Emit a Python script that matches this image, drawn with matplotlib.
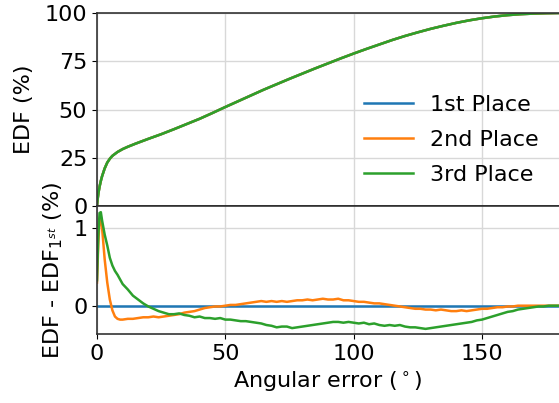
import matplotlib
matplotlib.use("Agg")
import matplotlib.pyplot as plt
import numpy as np

# EDF curve (shared by all three places, visually identical)
edf_x = [0, 0.3, 0.6, 1, 1.5, 2, 3, 4, 5, 6, 8, 10, 12, 15, 20, 25, 30, 35, 40, 45, 50,
         55, 60, 65, 70, 75, 80, 85, 90, 95, 100, 105, 110, 115, 120, 125, 130, 135,
         140, 145, 150, 155, 160, 165, 170, 175, 180]
edf_y = [0, 4, 7, 10, 13, 15.5, 19.5, 22.5, 24.5, 26, 28, 29.5, 30.7, 32.3, 34.8, 37.2,
         39.8, 42.5, 45.2, 48.2, 51.3, 54.3, 57.3, 60.3, 63.1, 65.9, 68.6, 71.3, 73.9,
         76.5, 79.0, 81.4, 83.7, 86.0, 88.1, 90.0, 91.8, 93.4, 94.9, 96.2, 97.3, 98.2,
         98.9, 99.4, 99.7, 99.9, 100]

# Difference to 1st place
diff_x = [0, 0.5, 1, 1.5, 2, 3, 4, 5, 6, 7, 8, 9, 10, 12, 14, 16, 18, 20, 22, 24, 26,
          28, 30, 32, 34, 36, 38, 40, 42, 44, 46, 48, 50, 52, 54, 56, 58, 60, 62, 64,
          66, 68, 70, 72, 74, 76, 78, 80, 82, 84, 86, 88, 90, 92, 94, 96, 98, 100, 102,
          104, 106, 108, 110, 112, 114, 116, 118, 120, 122, 124, 126, 128, 130, 132,
          134, 136, 138, 140, 142, 144, 146, 148, 150, 152, 154, 156, 158, 160, 162,
          164, 166, 168, 170, 172, 174, 176, 178, 180]
second_diff = [0.3, 0.8, 1.12, 1.15, 1.0, 0.6, 0.3, 0.08, -0.06, -0.14, -0.17, -0.18,
               -0.18, -0.17, -0.17, -0.16, -0.15, -0.15, -0.14, -0.15, -0.14, -0.13,
               -0.12, -0.11, -0.09, -0.08, -0.07, -0.05, -0.03, -0.02, -0.01, -0.01,
               0.0, 0.01, 0.01, 0.02, 0.03, 0.04, 0.05, 0.06, 0.05, 0.06, 0.05, 0.06,
               0.05, 0.06, 0.07, 0.07, 0.08, 0.07, 0.08, 0.09, 0.08, 0.08, 0.09, 0.07,
               0.07, 0.06, 0.05, 0.05, 0.04, 0.03, 0.03, 0.02, 0.01, -0.0, -0.01, -0.02,
               -0.03, -0.04, -0.04, -0.05, -0.05, -0.06, -0.05, -0.06, -0.07, -0.07,
               -0.06, -0.07, -0.06, -0.05, -0.04, -0.04, -0.03, -0.02, -0.02, -0.01,
               -0.01, 0.0, 0.0, 0.0, 0.0, 0.0, 0.0, 0.0, 0.0, 0.0]
third_diff = [0.33, 0.9, 1.2, 1.21, 1.1, 0.92, 0.78, 0.62, 0.52, 0.45, 0.40, 0.34,
              0.28, 0.21, 0.13, 0.08, 0.03, -0.01, -0.04, -0.07, -0.09, -0.11, -0.11,
              -0.10, -0.12, -0.13, -0.15, -0.14, -0.16, -0.16, -0.17, -0.16, -0.18,
              -0.18, -0.19, -0.20, -0.20, -0.21, -0.22, -0.23, -0.25, -0.26, -0.28,
              -0.27, -0.27, -0.29, -0.28, -0.27, -0.26, -0.25, -0.24, -0.23, -0.22,
              -0.21, -0.21, -0.22, -0.21, -0.22, -0.23, -0.22, -0.24, -0.23, -0.25,
              -0.26, -0.25, -0.26, -0.25, -0.27, -0.28, -0.28, -0.29, -0.30, -0.29,
              -0.28, -0.27, -0.26, -0.25, -0.24, -0.23, -0.22, -0.21, -0.19, -0.18,
              -0.16, -0.14, -0.12, -0.10, -0.08, -0.07, -0.05, -0.04, -0.03, -0.02,
              -0.01, -0.01, 0.0, 0.0, 0.0]
first_diff = [0.0] * len(diff_x)

labels = ["1st Place", "2nd Place", "3rd Place"]
colors = ["#1f77b4", "#ff7f0e", "#2ca02c"]

fs = 16
plt.rcParams["font.size"] = fs
fig = plt.figure(figsize=(5.59, 4.03), dpi=100)
ax1 = fig.add_axes([0.1735, 0.4888, 0.8265, 0.4789])
ax2 = fig.add_axes([0.1735, 0.1705, 0.8265, 0.3183], sharex=ax1)

for lab, c in zip(labels, colors):
    ax1.plot(edf_x, edf_y, color=c, lw=1.8, label=lab)
ax2.plot(diff_x, first_diff, color=colors[0], lw=1.8)
ax2.plot(diff_x, second_diff, color=colors[1], lw=1.8)
ax2.plot(diff_x, third_diff, color=colors[2], lw=1.8)

ax1.set_xlim(0, 180)
ax1.set_ylim(0, 100)
ax1.set_yticks([0, 25, 50, 75, 100])
ax2.set_ylim(-0.37, 1.29)
ax2.set_yticks([0, 1])
ax2.set_xticks([0, 50, 100, 150])
ax1.tick_params(axis="x", bottom=False, labelbottom=False)

for ax in (ax1, ax2):
    ax.grid(True, color="#d8d8d8", lw=1)
    ax.set_axisbelow(True)
    ax.spines["right"].set_visible(False)
    for s in ("left", "top", "bottom"):
        ax.spines[s].set_color("#333333")
        ax.spines[s].set_linewidth(1.2)
ax1.spines["bottom"].set_color("black")

ax1.set_ylabel("EDF (%)", labelpad=8)
ax2.set_ylabel("EDF - EDF$_{1^{st}}$ (%)", labelpad=6)
ax2.set_xlabel("Angular error ($^\\circ$)")

ax1.legend(loc="center right", frameon=False, fontsize=fs, handlelength=2.2,
           labelspacing=0.68, bbox_to_anchor=(1.0, 0.342))

fig.savefig("out.png", dpi=100)
